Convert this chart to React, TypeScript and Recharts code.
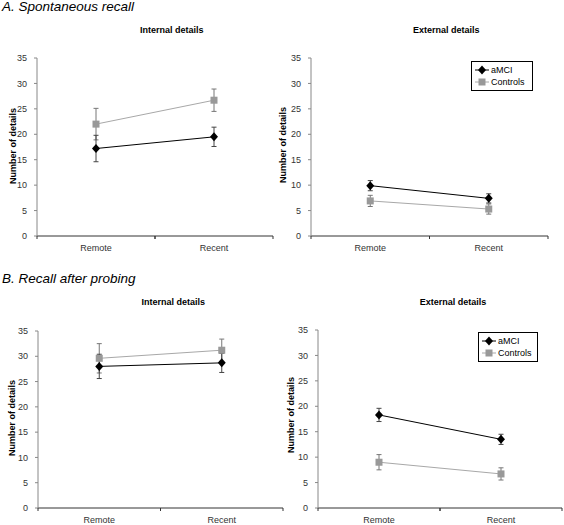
import React from 'react';
import { LineChart, Line, XAxis, YAxis, ErrorBar, Legend } from 'recharts';

const categories = ['Remote', 'Recent'];
const yTicks = [0, 5, 10, 15, 20, 25, 30, 35];
const seriesNames = ['aMCI', 'Controls'];

const spontInternalAmci = [17.2, 19.5];
const spontInternalAmciErr = [2.6, 1.9];
const spontInternalCtrl = [22.0, 26.7];
const spontInternalCtrlErr = [3.1, 2.2];

const spontExternalAmci = [9.9, 7.4];
const spontExternalAmciErr = [1.0, 0.9];
const spontExternalCtrl = [6.9, 5.3];
const spontExternalCtrlErr = [1.1, 1.0];

const probeInternalAmci = [28.0, 28.7];
const probeInternalAmciErr = [2.4, 1.9];
const probeInternalCtrl = [29.6, 31.2];
const probeInternalCtrlErr = [2.9, 2.2];

const probeExternalAmci = [18.3, 13.5];
const probeExternalAmciErr = [1.3, 1.0];
const probeExternalCtrl = [9.0, 6.7];
const probeExternalCtrlErr = [1.5, 1.2];

const FONT = '"Liberation Sans", Arial, Helvetica, sans-serif';
const AMCI_COLOR = '#000000';
const CTRL_LINE = '#a8a8a8';
const CTRL_MARK = '#999999';

function buildRows(a: number[], ae: number[], c: number[], ce: number[]) {
  return categories.map((cat, i) => ({
    cat,
    amci: a[i],
    amciErr: ae[i],
    ctrl: c[i],
    ctrlErr: ce[i],
  }));
}

const Diamond = ({ cx, cy }: any) => (
  <path d={`M${cx},${cy - 4.5}L${cx + 4},${cy}L${cx},${cy + 4.5}L${cx - 4},${cy}Z`} fill={AMCI_COLOR} />
);
const Square = ({ cx, cy }: any) => (
  <rect x={cx - 3.5} y={cy - 3.5} width={7} height={7} fill={CTRL_MARK} />
);

function XTick(props: any) {
  const { x, y, payload, width, visibleTicksCount } = props;
  const n = visibleTicksCount || categories.length;
  const half = (width || 236) / (2 * n);
  return (
    <g>
      <line x1={x - half} x2={x - half} y1={y} y2={y + 3} stroke="#333" />
      <line x1={x + half} x2={x + half} y1={y} y2={y + 3} stroke="#333" />
      <text x={x} y={y + 15} textAnchor="middle" fontSize={9} fill="#333" fontFamily={FONT}>
        {payload.value}
      </text>
    </g>
  );
}

function LegendBox() {
  return (
    <div
      style={{
        border: '1px solid #000',
        background: '#fff',
        padding: '2px 3px 2px 2px',
        fontFamily: FONT,
        fontSize: 9,
        color: '#000',
        boxSizing: 'border-box',
      }}
    >
      {seriesNames.map((name, i) => (
        <div key={name} style={{ display: 'flex', alignItems: 'center', height: 12 }}>
          <svg width={16} height={10} style={{ marginRight: 1 }}>
            <line x1={1} x2={15} y1={5} y2={5} stroke={i === 0 ? AMCI_COLOR : CTRL_LINE} />
            {i === 0 ? <Diamond cx={8} cy={5} /> : <Square cx={8} cy={5} />}
          </svg>
          <span>{name}</span>
        </div>
      ))}
    </div>
  );
}

type PanelProps = {
  rows: any[];
  left: number;
  top: number;
  width: number;
  height: number;
  margin: { top: number; right: number; bottom: number; left: number };
  yWidth: number;
  xHeight: number;
  legendPos?: { left: number; top: number; width: number };
};

function Panel({ rows, left, top, width, height, margin, yWidth, xHeight, legendPos }: PanelProps) {
  return (
    <div style={{ position: 'absolute', left, top }}>
      <LineChart width={width} height={height} data={rows} margin={margin}>
        <XAxis
          dataKey="cat"
          scale="band"
          height={xHeight}
          interval={0}
          tickLine={false}
          tickSize={0}
          tickMargin={0}
          axisLine={{ stroke: '#333' }}
          tick={<XTick />}
        />
        <YAxis
          type="number"
          domain={[0, 35]}
          ticks={yTicks}
          width={yWidth}
          interval={0}
          tickSize={3}
          tickMargin={7}
          axisLine={{ stroke: '#888' }}
          tickLine={{ stroke: '#888' }}
          tick={{ fontSize: 9, fill: '#333', fontFamily: FONT }}
        />
        <Line
          dataKey="ctrl"
          name="Controls"
          type="linear"
          stroke={CTRL_LINE}
          strokeWidth={1}
          isAnimationActive={false}
          activeDot={false}
          dot={(p: any) => <Square key={`s-${p.index}`} cx={p.cx} cy={p.cy} />}
        >
          <ErrorBar dataKey="ctrlErr" width={2.5} stroke="#777" strokeWidth={1} direction="y" isAnimationActive={false} />
        </Line>
        <Line
          dataKey="amci"
          name="aMCI"
          type="linear"
          stroke={AMCI_COLOR}
          strokeWidth={1}
          isAnimationActive={false}
          activeDot={false}
          dot={(p: any) => <Diamond key={`d-${p.index}`} cx={p.cx} cy={p.cy} />}
        >
          <ErrorBar dataKey="amciErr" width={2.5} stroke="#444" strokeWidth={1} direction="y" isAnimationActive={false} />
        </Line>
        {legendPos && (
          <Legend
            layout="vertical"
            align="center"
            verticalAlign="middle"
            content={<LegendBox />}
            wrapperStyle={{ left: legendPos.left, top: legendPos.top, width: legendPos.width, height: 'auto' }}
          />
        )}
      </LineChart>
    </div>
  );
}

const titleStyle = { fontFamily: FONT, fontSize: 13.5, fontStyle: 'italic' as const, fill: '#000' };
const subStyle = { fontFamily: FONT, fontSize: 9, fontWeight: 'bold' as const, fill: '#000' };

function YLabel({ x, y }: { x: number; y: number }) {
  return (
    <text transform={`translate(${x},${y}) rotate(-90)`} textAnchor="middle" style={subStyle}>
      Number of details
    </text>
  );
}

export default function App() {
  return (
    <div style={{ position: 'absolute', left: 0, top: 0, width: 564, height: 525, background: '#fff', overflow: 'hidden' }}>
      <Panel
        rows={buildRows(spontInternalAmci, spontInternalAmciErr, spontInternalCtrl, spontInternalCtrlErr)}
        left={0}
        top={0}
        width={282}
        height={260}
        margin={{ top: 58, right: 9, bottom: 0, left: 7 }}
        yWidth={30}
        xHeight={24}
      />
      <Panel
        rows={buildRows(spontExternalAmci, spontExternalAmciErr, spontExternalCtrl, spontExternalCtrlErr)}
        left={282}
        top={0}
        width={282}
        height={260}
        margin={{ top: 58, right: 16, bottom: 0, left: 0 }}
        yWidth={29}
        xHeight={24}
        legendPos={{ left: 189, top: 61, width: 62 }}
      />
      <Panel
        rows={buildRows(probeInternalAmci, probeInternalAmciErr, probeInternalCtrl, probeInternalCtrlErr)}
        left={0}
        top={260}
        width={284}
        height={265}
        margin={{ top: 71, right: 1, bottom: 0, left: 8 }}
        yWidth={30}
        xHeight={17}
      />
      <Panel
        rows={buildRows(probeExternalAmci, probeExternalAmciErr, probeExternalCtrl, probeExternalCtrlErr)}
        left={282}
        top={260}
        width={282}
        height={265}
        margin={{ top: 70, right: 2, bottom: 0, left: 6 }}
        yWidth={30}
        xHeight={17}
        legendPos={{ left: 196, top: 72, width: 60 }}
      />
      <svg width={564} height={525} style={{ position: 'absolute', left: 0, top: 0, pointerEvents: 'none' }}>
        <text x={2} y={11} style={titleStyle}>A. Spontaneous recall</text>
        <text x={2} y={282.7} style={titleStyle}>B. Recall after probing</text>
        <text x={171.7} y={32.5} textAnchor="middle" style={subStyle}>Internal details</text>
        <text x={446.3} y={32.5} textAnchor="middle" style={subStyle}>External details</text>
        <text x={173.3} y={305} textAnchor="middle" style={subStyle}>Internal details</text>
        <text x={453} y={305} textAnchor="middle" style={subStyle}>External details</text>
        <YLabel x={15.5} y={146} />
        <YLabel x={285.5} y={145} />
        <YLabel x={15} y={418} />
        <YLabel x={293.5} y={415} />
      </svg>
    </div>
  );
}
